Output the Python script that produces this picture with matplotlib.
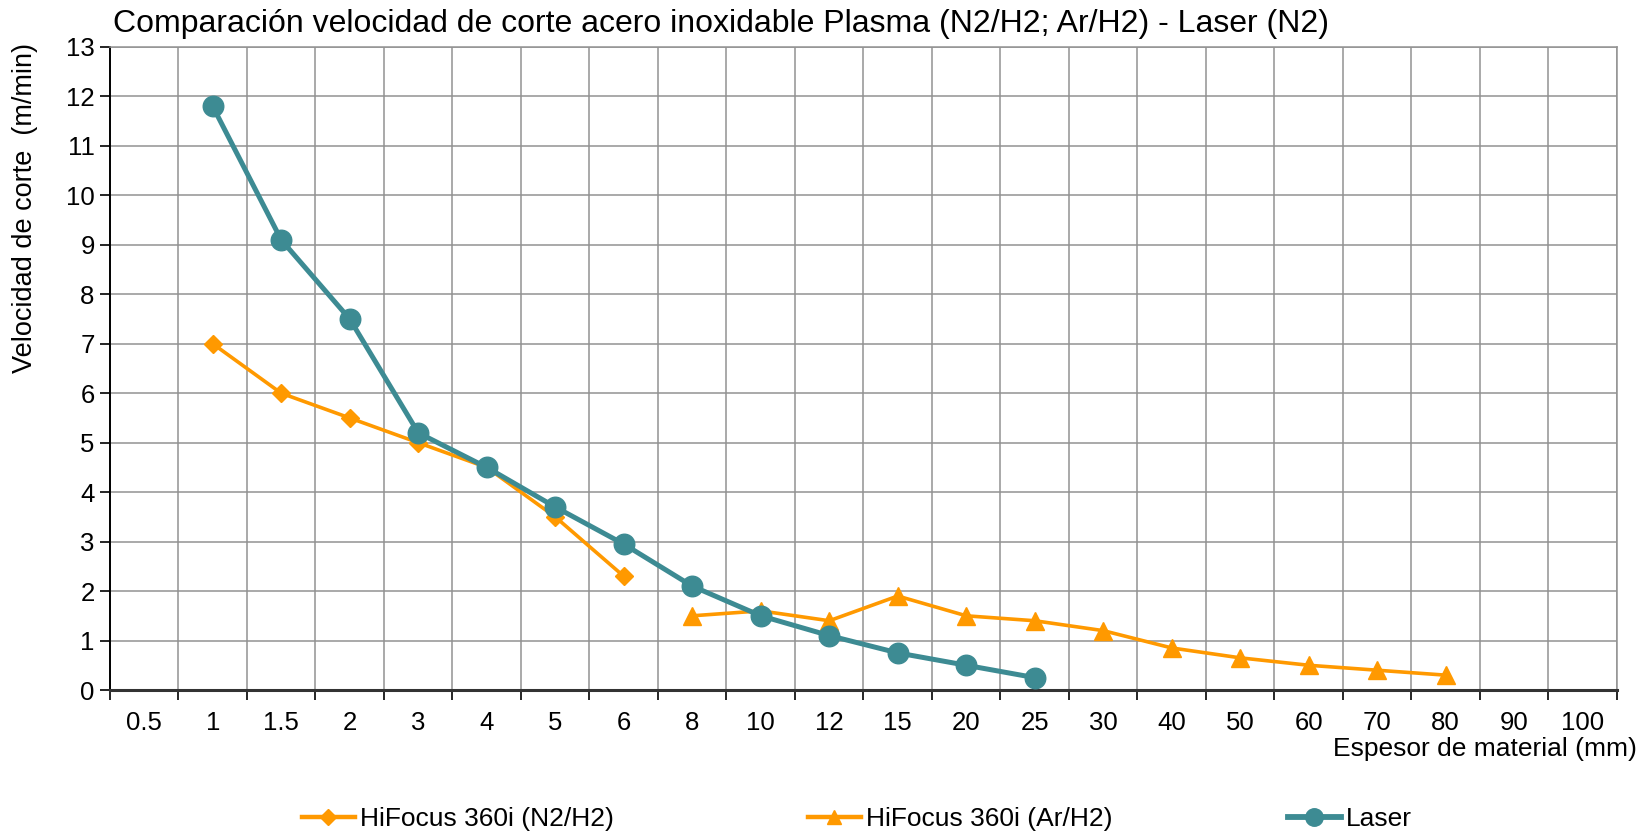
import matplotlib
matplotlib.use("Agg")
import matplotlib.pyplot as plt
from matplotlib.lines import Line2D
import numpy as np

categories = ["0.5", "1", "1.5", "2", "3", "4", "5", "6", "8", "10", "12", "15",
              "20", "25", "30", "40", "50", "60", "70", "80", "90", "100"]

n2h2_cats = ["1", "1.5", "2", "3", "4", "5", "6"]
n2h2_vals = [7.0, 6.0, 5.5, 5.0, 4.5, 3.5, 2.3]

arh2_cats = ["8", "10", "12", "15", "20", "25", "30", "40", "50", "60", "70", "80"]
arh2_vals = [1.5, 1.6, 1.4, 1.9, 1.5, 1.4, 1.2, 0.85, 0.65, 0.5, 0.4, 0.3]

laser_cats = ["1", "1.5", "2", "3", "4", "5", "6", "8", "10", "12", "15", "20", "25"]
laser_vals = [11.8, 9.1, 7.5, 5.2, 4.5, 3.7, 2.95, 2.1, 1.5, 1.1, 0.75, 0.5, 0.25]

title = "Comparación velocidad de corte acero inoxidable Plasma (N2/H2; Ar/H2) - Laser (N2)"
ylabel = "Velocidad de corte  (m/min)"
xlabel = "Espesor de material (mm)"
names = ["HiFocus 360i (N2/H2)", "HiFocus 360i (Ar/H2)", "Laser"]

ORANGE = "#FF9900"
TEAL = "#3D8B93"
GRID = "#929292"

plt.rcParams['font.family'] = ['Liberation Sans', 'DejaVu Sans']

W, H = 1649, 836
fig = plt.figure(figsize=(W / 100, H / 100), dpi=100)
ax = fig.add_axes([110 / W, 1 - 690 / H, (1617 - 110) / W, (690 - 47) / H])

idx = {c: i for i, c in enumerate(categories)}

l1, = ax.plot([idx[c] for c in n2h2_cats], n2h2_vals, color=ORANGE, lw=2.6,
              marker="D", markersize=9.5, zorder=3)
l2, = ax.plot([idx[c] for c in arh2_cats], arh2_vals, color=ORANGE, lw=2.6,
              marker="^", markersize=12.5, zorder=3)
l3, = ax.plot([idx[c] for c in laser_cats], laser_vals, color=TEAL, lw=3.6,
              marker="o", markersize=14.8, zorder=4)

ax.set_xlim(-0.5, len(categories) - 0.5)
ax.set_ylim(0, 13)
ax.set_yticks(np.arange(0, 14, 1))
ax.set_xticks(np.arange(len(categories)))
ax.set_xticklabels(categories)
ax.set_xticks(np.arange(len(categories) + 1) - 0.5, minor=True)
ax.tick_params(axis='x', which='major', length=0, pad=15, labelsize=18.5)
ax.tick_params(axis='x', which='minor', length=7, width=1.2, color='black', direction='out')
ax.tick_params(axis='y', which='major', length=7, width=1.2, color='black', labelsize=18.5, pad=4)

ax.grid(True, axis='y', which='major', color=GRID, lw=1.1, zorder=0)
ax.grid(True, axis='x', which='minor', color=GRID, lw=1.1, zorder=0)
ax.set_axisbelow(True)

for s in ['top', 'right']:
    ax.spines[s].set_color(GRID)
    ax.spines[s].set_linewidth(1.1)
ax.spines['left'].set_color('black')
ax.spines['left'].set_linewidth(1.4)
ax.spines['bottom'].set_color('#333333')
ax.spines['bottom'].set_linewidth(2.2)

fig.text(113 / W, 1 - 24 / H, title, fontsize=23, ha='left', va='center')
fig.text(25 / W, 1 - 208 / H, ylabel, fontsize=19.5, rotation=90, ha='center', va='center')
fig.text(1637 / W, 1 - 749 / H, xlabel, fontsize=19, ha='right', va='center')

lx = [302, 808, 1288]
for line, name, x in zip([l1, l2, l3], names, lx):
    h = Line2D([], [], color=line.get_color(), lw=line.get_linewidth() + 0.6,
               marker=line.get_marker(),
               markersize=line.get_markersize() * 0.85)
    fig.legend([h], [name], loc='center left', bbox_to_anchor=(x / W, 1 - 819 / H),
               frameon=False, fontsize=19, handlelength=2.0, handletextpad=0.2,
               borderaxespad=0, borderpad=0)

fig.savefig("out.png", dpi=100)
